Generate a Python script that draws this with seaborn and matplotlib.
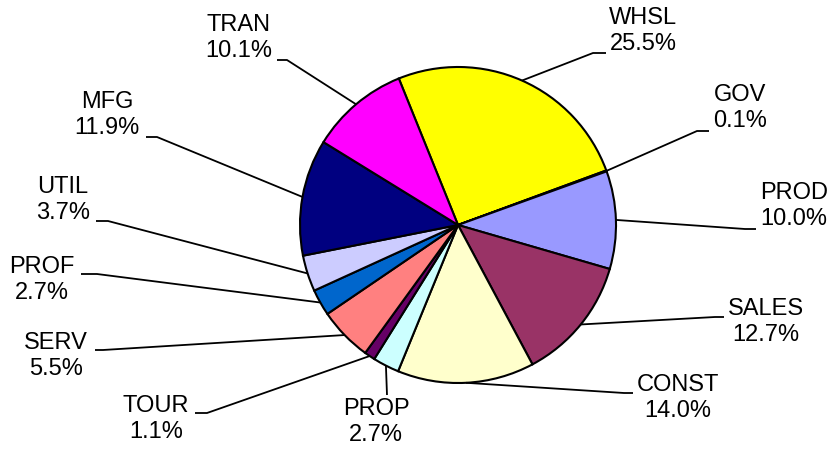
import seaborn as sns
import numpy as np
import matplotlib.pyplot as plt

# share of each sector, clockwise from the top
sectors = ['WHSL', 'GOV', 'PROD', 'SALES', 'CONST', 'PROP', 'TOUR', 'SERV', 'PROF', 'UTIL', 'MFG', 'TRAN']
shares = [25.5, 0.1, 10.0, 12.7, 14.0, 2.7, 1.1, 5.5, 2.7, 3.7, 11.9, 10.1]
colors = ['#FFFF00', '#333399', '#9999FF', '#993366', '#FFFFCC', '#CCFFFF',
          '#660066', '#FF8080', '#0066CC', '#CCCCFF', '#000080', '#FF00FF']

# label layout in figure pixels: text centre, leader elbow, leader end
text_pos = [(643, 31), (740, 108), (794, 206), (766, 322), (678, 398), (376, 422),
            (156, 419), (56, 356), (42, 280), (63, 200), (107, 115), (239, 38)]
elbow_pos = [(593, 53), (697, 131), (745, 229), (715, 317), (624, 393), (387, 395),
             (207, 413), (103, 350), (97, 274), (108, 221), (157, 137), (287, 60)]
end_pos = [(606, 53), (709, 131), (756, 229), (724, 317), (633, 393), (387, 395),
           (195, 413), (95, 350), (81, 274), (96, 221), (146, 137), (277, 60)]

W, H = 828, 449
cx, cy, R = 458, 225, 158


def px(x, y):
    return (x - cx) / R, (cy - y) / R


sns.set_theme(style='white')
plt.rcParams['font.family'] = ['Liberation Sans', 'DejaVu Sans']

fig = plt.figure(figsize=(W / 100, H / 100), dpi=100)
ax = fig.add_axes([0, 0, 1, 1])

wedges, _ = ax.pie(shares, colors=colors, startangle=112, counterclock=False,
                   radius=1, wedgeprops=dict(edgecolor='black', linewidth=1.5))

for w, name, share, tp, ep, fp in zip(wedges, sectors, shares, text_pos, elbow_pos, end_pos):
    mid = np.deg2rad((w.theta1 + w.theta2) / 2)
    anchor = (np.cos(mid), np.sin(mid))
    e = px(*ep)
    f = px(*fp)
    ax.plot([anchor[0], e[0], f[0]], [anchor[1], e[1], f[1]], color='black', lw=1.3,
            solid_capstyle='butt', zorder=1)
    t = px(*tp)
    ax.text(t[0], t[1], f'{name}\n{share:.1f}%', ha='center', va='center',
            multialignment='center', fontsize=17, linespacing=1.2, color='black')

ax.set_xlim(-cx / R, (W - cx) / R)
ax.set_ylim((cy - H) / R, cy / R)
ax.set_aspect('auto')
ax.axis('off')

fig.savefig('out.png', dpi=100, facecolor='white')
